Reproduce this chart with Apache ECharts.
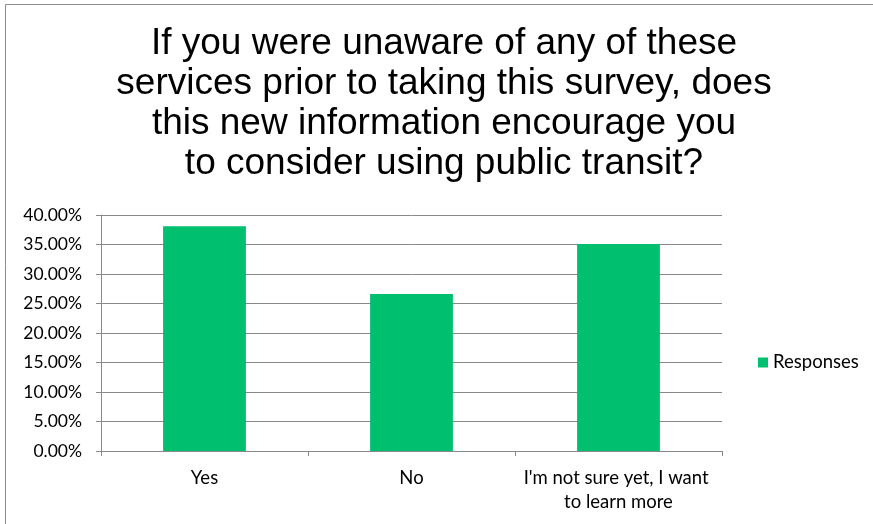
<!DOCTYPE html>
<html>
<head>
<meta charset="utf-8">
<script src="https://cdn.jsdelivr.net/npm/echarts@6/dist/echarts.min.js"></script>
<style>
  html, body { margin: 0; padding: 0; background: #fff; }
  #chart { width: 873px; height: 524px; }
</style>
</head>
<body>
<div id="chart"></div>
<script>
    var titleLines = [
        'If you were unaware of any of these',
        'services prior to taking this survey, does',
        'this new information encourage you',
        'to consider using public transit?'
    ]
    var categories = ['Yes', 'No', "I'm not sure yet, I want to learn more"]
    var responses = [38.1, 26.6, 35.1]
    var seriesName = 'Responses'

    var graphics = [
        {
            type: 'rect',
            shape: { x: 5.5, y: 4.5, width: 900, height: 600 },
            style: { fill: 'none', stroke: '#8c8c8c', lineWidth: 1 },
            silent: true
        }
    ]
    // one text per title line so each line is centred on its own
    for (var i = 0; i < titleLines.length; i++) {
        graphics.push({
            type: 'text',
            x: 444,
            y: 44 + i * 40,
            style: {
                text: titleLines[i],
                fontFamily: 'Liberation Sans',
                fontSize: 37,
                fill: '#000',
                align: 'center',
                verticalAlign: 'middle'
            },
            silent: true
        })
    }

    var myChart = echarts.init(document.getElementById('chart'))
    var option = {
        animation: false,
        graphic: graphics,
        legend: {
            data: [seriesName],
            orient: 'vertical',
            left: 753,
            top: 348,
            itemWidth: 10,
            itemHeight: 10,
            itemGap: 5,
            icon: 'rect',
            textStyle: { fontFamily: 'Lato', fontSize: 18.5, color: '#000' }
        },
        grid: {
            left: 101,
            right: 873 - 722,
            top: 215,
            bottom: 524 - 451,
            containLabel: false
        },
        xAxis: {
            type: 'category',
            data: categories,
            axisLine: { lineStyle: { color: '#898989' } },
            axisTick: { show: true, length: 5, lineStyle: { color: '#898989' } },
            axisLabel: {
                fontFamily: 'Lato',
                fontSize: 18.5,
                color: '#000',
                margin: 15,
                lineHeight: 24,
                width: 196,
                overflow: 'break',
                interval: 0
            }
        },
        yAxis: {
            type: 'value',
            min: 0,
            max: 40,
            interval: 5,
            axisLine: { show: true, lineStyle: { color: '#898989' } },
            axisTick: { show: true, length: 5, lineStyle: { color: '#898989' } },
            splitLine: { lineStyle: { color: '#898989' } },
            axisLabel: {
                fontFamily: 'Lato',
                fontSize: 17.5,
                color: '#000',
                margin: 19,
                formatter: function (v) { return v.toFixed(2) + '%' }
            }
        },
        series: [
            {
                name: seriesName,
                type: 'bar',
                data: responses,
                barWidth: '40%',
                itemStyle: { color: '#00BF6F' }
            }
        ]
    }
    myChart.setOption(option)
</script>
</body>
</html>
